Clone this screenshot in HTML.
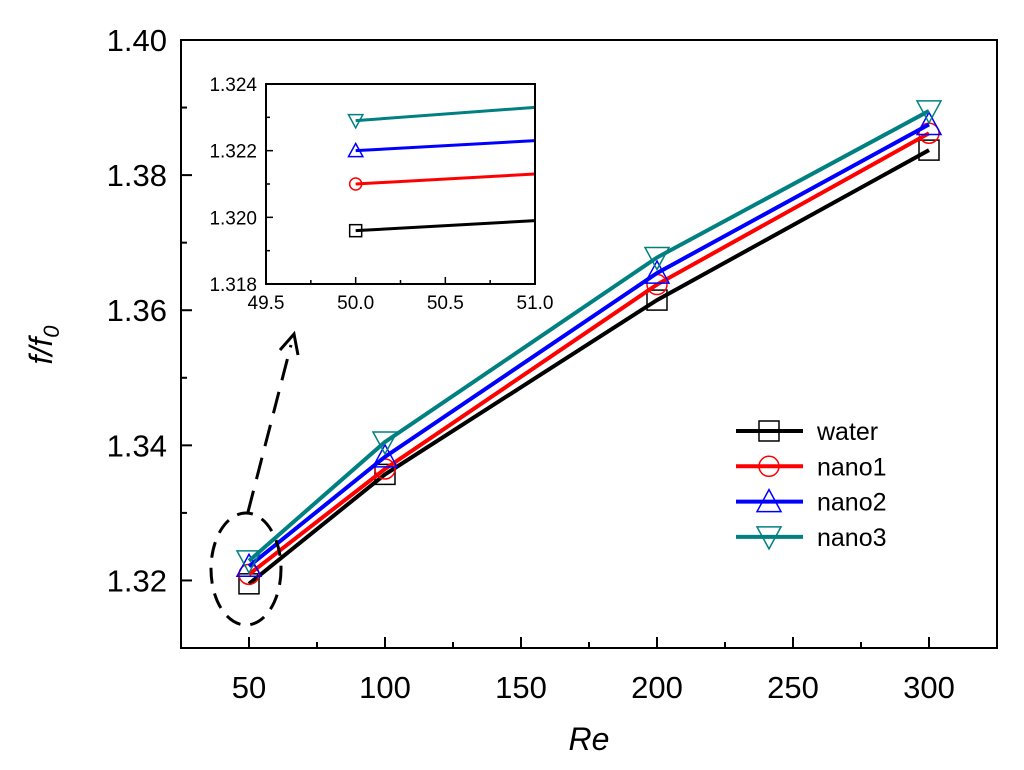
<!DOCTYPE html>
<html><head><meta charset="utf-8"><style>
body{margin:0;background:#fff}
svg{display:block;font-family:"Liberation Sans",Arial,sans-serif}
</style></head><body>
<svg id="chart" width="1024" height="770" viewBox="0 0 1024 770" xmlns="http://www.w3.org/2000/svg"></svg>
<script>
const categories=[50,100,200,300];
const seriesNames=["water","nano1","nano2","nano3"];
const water=[1.3195,1.3357,1.3615,1.3837];
const nano1=[1.3209,1.3365,1.3638,1.3862];
const nano2=[1.3221,1.3383,1.3655,1.3875];
const nano3=[1.3229,1.3405,1.3678,1.3895];
const xTicks=[50,100,150,200,250,300];
const yTicks=[1.32,1.34,1.36,1.38,1.40];
const insetXTicks=[49.5,50.0,50.5,51.0];
const insetYTicks=[1.318,1.320,1.322,1.324];
const insetWater=[1.3196,1.3199];
const insetNano1=[1.3210,1.3213];
const insetNano2=[1.3220,1.3223];
const insetNano3=[1.3229,1.3233];
const insetX=[50,51];

const NS="http://www.w3.org/2000/svg";
const svg=document.getElementById('chart');
const colors=["#000","#f00","#00f","#008080"];
const markers=["square","circle","up","down"];
function mk(tag,attrs,parent){const e=document.createElementNS(NS,tag);for(const k in attrs)e.setAttribute(k,attrs[k]);(parent||svg).appendChild(e);return e;}
const X0=181,X1=997,Y0=40,Y1=648;
const xs=v=>X0+(v-25)/300*(X1-X0);
const ys=v=>Y1-(v-1.31)/0.09*(Y1-Y0);
function marker(type,cx,cy,color,r,parent){
  let e;
  if(type==="square")e=mk('rect',{x:cx-r,y:cy-r,width:2*r,height:2*r,fill:'none',stroke:color,'stroke-width':1.5},parent);
  else if(type==="circle")e=mk('circle',{cx:cx,cy:cy,r:r,fill:'none',stroke:color,'stroke-width':1.5},parent);
  else if(type==="up")e=mk('polygon',{points:`${cx},${cy-r*1.2} ${cx-r*1.2},${cy+r} ${cx+r*1.2},${cy+r}`,fill:'none',stroke:color,'stroke-width':1.5},parent);
  else e=mk('polygon',{points:`${cx},${cy+r*1.2} ${cx-r*1.2},${cy-r} ${cx+r*1.2},${cy-r}`,fill:'none',stroke:color,'stroke-width':1.5},parent);
  return e;
}
const frame=mk('rect',{x:X0,y:Y0,width:X1-X0,height:Y1-Y0,fill:'none',stroke:'#000','stroke-width':2});


xTicks.forEach(t=>{const x=xs(t);
  mk('line',{x1:x,y1:Y1,x2:x,y2:Y1-11,stroke:'#000','stroke-width':2});
  const tx=mk('text',{x:x,y:Y1+50,'text-anchor':'middle','font-size':31,fill:'#000'});tx.textContent=t;
  
  
});
for(let t=25;t<=325;t+=25){if(t%50)mk('line',{x1:xs(t),y1:Y1,x2:xs(t),y2:Y1-6,stroke:'#000','stroke-width':2});}
yTicks.forEach(t=>{const y=ys(t);
  mk('line',{x1:X0,y1:y,x2:X0+11,y2:y,stroke:'#000','stroke-width':2});
  const tx=mk('text',{x:X0-14,y:y+11,'text-anchor':'end','font-size':31,fill:'#000'});tx.textContent=t.toFixed(2);
  
  
});
for(let t=1.31;t<1.40;t+=0.02){mk('line',{x1:X0,y1:ys(t),x2:X0+6,y2:ys(t),stroke:'#000','stroke-width':2});}
const xl=mk('text',{x:589,y:750,'text-anchor':'middle','font-size':32,'font-style':'italic'});xl.textContent='Re';


const yl=mk('text',{transform:'translate(52,345) rotate(-90)','text-anchor':'middle','font-size':32,'font-style':'italic'});
yl.innerHTML='f/f<tspan font-size="22" dy="7">0</tspan>';


const all=[water,nano1,nano2,nano3];
all.forEach((s,i)=>{
  const g=mk('g',{});
  
  
  mk('polyline',{points:s.map((v,j)=>xs(categories[j])+','+ys(v)).join(' '),fill:'none',stroke:colors[i],'stroke-width':4},g);
  s.forEach((v,j)=>{const m=marker(markers[i],xs(categories[j]),ys(v),colors[i],10,g);
    
    });
});
const el=mk('ellipse',{cx:246,cy:569,rx:35,ry:56,fill:'none',stroke:'#000','stroke-width':3,'stroke-dasharray':'16,10'});


mk('line',{x1:248,y1:512,x2:291,y2:345,stroke:'#000','stroke-width':3,'stroke-dasharray':'22,12'});
const ah=mk('polyline',{points:'280,350 294,334 298,355',fill:'none',stroke:'#000','stroke-width':3});


seriesNames.forEach((n,i)=>{
  const y=431+i*35.3;const g=mk('g',{});
  
  
  mk('line',{x1:736,y1:y,x2:803,y2:y,stroke:colors[i],'stroke-width':4},g);
  marker(markers[i],769,y,colors[i],10,g);
  const t=mk('text',{x:817,y:y+9,'font-size':25},g);t.textContent=n;
});
const IX0=266,IX1=535,IY0=84,IY1=284;
const ixs=v=>IX0+(v-49.5)/1.5*(IX1-IX0);
const iys=v=>IY1-(v-1.318)/0.006*(IY1-IY0);
const ig=mk('g',{});


mk('rect',{x:IX0,y:IY0,width:IX1-IX0,height:IY1-IY0,fill:'#fff',stroke:'none'},ig);
[insetWater,insetNano1,insetNano2,insetNano3].forEach((s,i)=>{
  mk('polyline',{points:s.map((v,j)=>ixs(insetX[j])+','+iys(v)).join(' '),fill:'none',stroke:colors[i],'stroke-width':3},ig);
  const m=marker(markers[i],ixs(insetX[0]),iys(s[0]),colors[i],6,ig);
  
  
});
mk('rect',{x:IX0,y:IY0,width:IX1-IX0,height:IY1-IY0,fill:'none',stroke:'#000','stroke-width':2},ig);
insetXTicks.forEach(t=>{const x=ixs(t);
  mk('line',{x1:x,y1:IY1,x2:x,y2:IY1-7,stroke:'#000','stroke-width':1.5},ig);
  const tx=mk('text',{x:x,y:IY1+25,'text-anchor':'middle','font-size':19},ig);tx.textContent=t.toFixed(1);});
for(let t=49.75;t<51;t+=0.5)mk('line',{x1:ixs(t),y1:IY1,x2:ixs(t),y2:IY1-4,stroke:'#000','stroke-width':1.5},ig);
insetYTicks.forEach(t=>{const y=iys(t);
  mk('line',{x1:IX0,y1:y,x2:IX0+7,y2:y,stroke:'#000','stroke-width':1.5},ig);
  const tx=mk('text',{x:IX0-9,y:y+7,'text-anchor':'end','font-size':19},ig);tx.textContent=t.toFixed(3);});
for(let t=1.319;t<1.324;t+=0.002)mk('line',{x1:IX0,y1:iys(t),x2:IX0+4,y2:iys(t),stroke:'#000','stroke-width':1.5},ig);
</script>
</body></html>
